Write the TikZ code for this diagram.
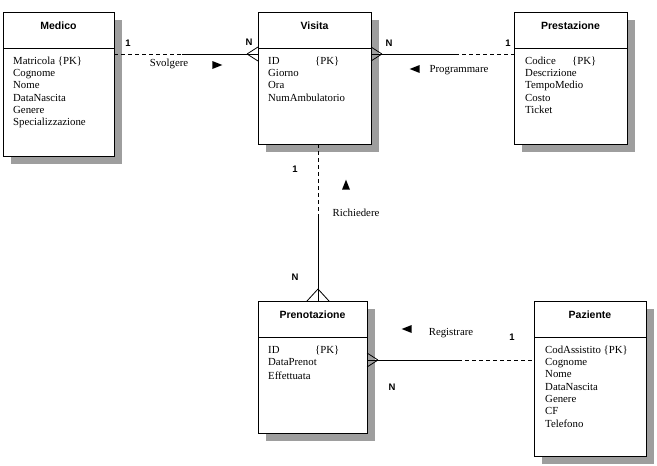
\documentclass[tikz,border=0pt]{standalone}
\usepackage{fontspec}
\setmainfont{Liberation Serif}
\newfontfamily\erfont{Liberation Sans}
\usepackage{tikz}
\usetikzlibrary{positioning,arrows.meta,shapes.geometric,shadows}

\begin{document}
\begin{tikzpicture}[
    x=1pt, y=-1pt,
    entity/.style={
        draw,
        rectangle,
        fill=white,
        line width=0.9pt,
        inner sep=0pt,
        outer sep=0pt,
        drop shadow={shadow xshift=8pt, shadow yshift=-8pt, fill=black!38, opacity=1}
    },
    head/.style={
        entity,
        minimum height=36pt,
        text height=8pt,
        text depth=9pt,
        font=\erfont\bfseries\fontsize{10.5}{12}\selectfont
    },
    attrs/.style={entity},
    fields/.style={
        anchor=north west,
        align=left,
        inner sep=0pt,
        font=\fontsize{10.8}{12.3}\selectfont
    },
    card/.style={font=\erfont\bfseries\fontsize{9.5}{10}\selectfont, inner sep=0pt},
    relname/.style={font=\fontsize{10.8}{12}\selectfont, inner sep=0pt},
    dirmark/.style={
        isosceles triangle,
        isosceles triangle stretches,
        fill=black,
        inner sep=0pt,
        minimum height=10pt,
        minimum width=8pt
    },
    link/.style={line width=0.8pt},
    optional/.style={link, dash pattern=on 4pt off 3pt},
    crowfoot/.pic={\draw[link] (-11pt,0pt) -- (0pt,7pt) (-11pt,0pt) -- (0pt,-7pt);},
    widefoot/.pic={\draw[link] (-12pt,0pt) -- (0pt,11pt) (-12pt,0pt) -- (0pt,-11pt);}
]
\useasboundingbox (0,0) rectangle (657,466);

% entities
\node[head, minimum width=111pt, anchor=north west] (medico) at (3,12) {Medico};
\node[attrs, minimum width=111pt, minimum height=108pt, below=0pt of medico] (medico-att) {};
\node[fields] (medico-txt) at ([xshift=10pt,yshift=-8.6pt]medico-att.north west) {
Matricola \{PK\}\\
Cognome\\
Nome\\
DataNascita\\
Genere\\
Specializzazione};

\node[head, minimum width=113pt, anchor=north west] (visita) at (258,12) {Visita};
\node[attrs, minimum width=113pt, minimum height=96pt, below=0pt of visita] (visita-att) {};
\node[fields] (visita-txt) at ([xshift=10pt,yshift=-8.6pt]visita-att.north west) {
\makebox[47pt][l]{ID}\{PK\}\\
Giorno\\
Ora\\
NumAmbulatorio};

\node[head, minimum width=113pt, anchor=north west] (prestazione) at (514,12) {Prestazione};
\node[attrs, minimum width=113pt, minimum height=96pt, below=0pt of prestazione] (prestazione-att) {};
\node[fields] (prestazione-txt) at ([xshift=11pt,yshift=-8.6pt]prestazione-att.north west) {
\makebox[47pt][l]{Codice}\{PK\}\\
Descrizione\\
TempoMedio\\
Costo\\
Ticket};

\node[head, minimum width=109pt, anchor=north west] (prenotazione) at (258,301) {Prenotazione};
\node[attrs, minimum width=109pt, minimum height=96pt, below=0pt of prenotazione] (prenotazione-att) {};
\node[fields] (prenotazione-txt) at ([xshift=10pt,yshift=-8.6pt]prenotazione-att.north west) {
\makebox[47pt][l]{ID}\{PK\}\\
DataPrenot\\[2pt]
Effettuata};

\node[head, minimum width=112pt, anchor=north west] (paziente) at (534,301) {Paziente};
\node[attrs, minimum width=112pt, minimum height=119pt, below=0pt of paziente] (paziente-att) {};
\node[fields] (paziente-txt) at ([xshift=11pt,yshift=-8.6pt]paziente-att.north west) {
CodAssistito \{PK\}\\
Cognome\\
Nome\\
DataNascita\\
Genere\\
CF\\
Telefono};

% relationships
\coordinate (sv-1) at ([yshift=-6pt]medico-att.north east);
\coordinate (sv-n) at (sv-1 -| visita-att.west);
\path (sv-1) -- (sv-n) coordinate[pos=0.47] (sv-m);
\draw[optional] (sv-1) -- (sv-m);
\draw[link] (sv-m) -- (sv-n);
\pic at (sv-n) {crowfoot};

\coordinate (pr-n) at ([yshift=-6pt]visita-att.north east);
\coordinate (pr-1) at (pr-n -| prestazione-att.west);
\path (pr-n) -- (pr-1) coordinate[pos=0.59] (pr-m);
\draw[link] (pr-n) -- (pr-m);
\draw[optional] (pr-m) -- (pr-1);
\pic[rotate=180] at (pr-n) {crowfoot};

\coordinate (ri-1) at ([xshift=3.5pt]visita-att.south);
\coordinate (ri-n) at (ri-1 |- prenotazione.north);
\path (ri-1) -- (ri-n) coordinate[pos=0.47] (ri-m);
\draw[optional] (ri-1) -- (ri-m);
\draw[link] (ri-m) -- (ri-n);
\pic[rotate=-90] at (ri-n) {widefoot};

\coordinate (re-n) at ([yshift=-23pt]prenotazione-att.north east);
\coordinate (re-1) at (re-n -| paziente-att.west);
\path (re-n) -- (re-1) coordinate[pos=0.545] (re-m);
\draw[link] (re-n) -- (re-m);
\draw[optional] (re-m) -- (re-1);
\pic[rotate=180] at (re-n) {crowfoot};

% labels
\node[card] (sv-card1) at (128,43) {1};
\node[card] (sv-cardn) at (249,42) {N};
\node[relname] (sv-name) at (169,64) {Svolgere};
\node[dirmark] (sv-dir) at (215,65) {};

\node[card] (pr-cardn) at (389,43) {N};
\node[card] (pr-card1) at (508,43) {1};
\node[dirmark, shape border rotate=180] (pr-dir) at (417,69) {};
\node[relname] (pr-name) at (459,70) {Programmare};

\node[card] (ri-card1) at (295,169) {1};
\node[card] (ri-cardn) at (295,277) {N};
\node[dirmark, shape border rotate=90] (ri-dir) at (346,187) {};
\node[relname] (ri-name) at (356,213) {Richiedere};

\node[card] (re-card1) at (512,337) {1};
\node[card] (re-cardn) at (392,387) {N};
\node[dirmark, shape border rotate=180] (re-dir) at (409,329) {};
\node[relname] (re-name) at (451,333) {Registrare};

\end{tikzpicture}
\end{document}
